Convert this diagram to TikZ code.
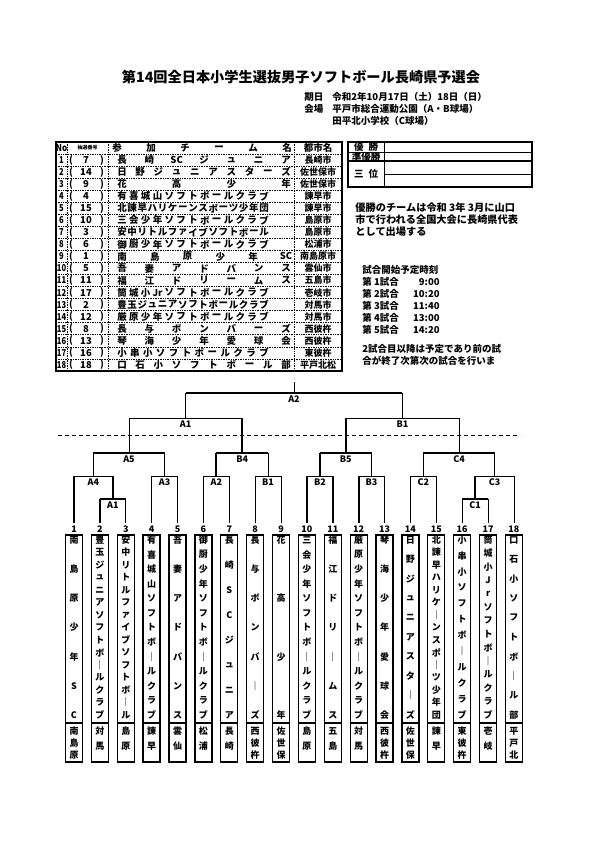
\documentclass[tikz,border=0pt]{standalone}
\usepackage{fontspec}
\setmainfont{Noto Sans CJK JP}
\usetikzlibrary{positioning}
\tikzset{every picture/.style={line width=0.8pt}}
\tikzset{
  thn/.style={line width=0.8pt},
  thk/.style={line width=1.7pt},
  txt/.style={inner sep=0pt, font=\bfseries\fontsize{9.5}{10}\selectfont},
  vch/.style={inner sep=0pt, font=\bfseries\fontsize{9}{9}\selectfont},
  mlbl/.style={inner sep=0pt, font=\bfseries\fontsize{9}{9}\selectfont},
  teambox/.style={line width=1.3pt},
  grid/.style={densely dotted, line width=0.7pt},
}

\begin{document}
\begin{tikzpicture}[x=1pt, y=-1pt]
\useasboundingbox (0,0) rectangle (595,842);
\fill[white] (0,0) rectangle (595,842);

% title and dates
\node[inner sep=0pt, font=\bfseries\fontsize{14.2}{15}\selectfont] (title) at (301,77) {第14回全日本小学生選抜男子ソフトボール長崎県予選会};
\node[txt, anchor=west] (kijitu) at (304,97) {期日};
\node[txt, anchor=west] (date) at (332,97) {令和2年10月17日（土）18日（日）};
\node[txt, anchor=west] (kaijo) at (304,109) {会場};
\node[txt, anchor=west] (park) at (332,109) {平戸市総合運動公園（A・B球場）};
\node[txt, anchor=west] (school) at (332,121) {田平北小学校（C球場）};

% entry table
\draw[line width=1.1pt] (56,142) rectangle (342,371);
\foreach \yy in {1,...,18} \draw[grid] (56,{142+12.05*\yy}) -- (342,{142+12.05*\yy});
\foreach \xx in {67,108,294} \draw[grid] (\xx,142) -- (\xx,371);
\node[txt] (hno) at (61.5,148) {\scalebox{0.85}[1]{No}};
\node[inner sep=0pt, font=\bfseries\fontsize{5}{5}\selectfont] (hdraw) at (87.5,148) {抽選番号};
\foreach \ch [count=\k] in {参,加,チ,ー,ム,名}
  \node[txt] (hd\k) at ({117+(287-117)*(\k-1)/5},148) {\ch};
\node[txt] (hcity) at (318,148) {都市名};
\foreach \row/\drw/\nm/\ct in {
  1/7/{長,崎,SC,ジ,ュ,ニ,ア}/長崎市,
  2/14/{日,野,ジ,ュ,ニ,ア,ス,タ,ー,ズ}/佐世保市,
  3/9/{花,高,少,年}/佐世保市,
  4/4/{有,喜,城,山,ソ,フ,ト,ボ,ー,ル,ク,ラ,ブ}/諫早市,
  5/15/{北,諫,早,ハ,リ,ケ,ー,ン,ス,ポ,ー,ツ,少,年,団}/諫早市,
  6/10/{三,会,少,年,ソ,フ,ト,ボ,ー,ル,ク,ラ,ブ}/島原市,
  7/3/{安,中,リ,ト,ル,フ,ァ,イ,ブ,ソ,フ,ト,ボ,ー,ル}/島原市,
  8/6/{御,厨,少,年,ソ,フ,ト,ボ,ー,ル,ク,ラ,ブ}/松浦市,
  9/1/{南,島,原,少,年,SC}/南島原市,
  10/5/{吾,妻,ア,ド,バ,ン,ス}/雲仙市,
  11/11/{福,江,ド,リ,ー,ム,ス}/五島市,
  12/17/{筒,城,小,Jr,ソ,フ,ト,ボ,ー,ル,ク,ラ,ブ}/壱岐市,
  13/2/{豊,玉,ジ,ュ,ニ,ア,ソ,フ,ト,ボ,ー,ル,ク,ラ,ブ}/対馬市,
  14/12/{厳,原,少,年,ソ,フ,ト,ボ,ー,ル,ク,ラ,ブ}/対馬市,
  15/8/{長,与,ボ,ン,バ,ー,ズ}/西彼杵,
  16/13/{琴,海,少,年,愛,球,会}/西彼杵,
  17/16/{小,串,小,ソ,フ,ト,ボ,ー,ル,ク,ラ,ブ}/東彼杵,
  18/18/{口,石,小,ソ,フ,ト,ボ,ー,ル,部}/平戸北松}{
  \pgfmathsetmacro\ry{148+12.05*\row}
  \node[txt] (no\row) at (61.5,\ry) {\scalebox{0.8}[1]{\row}};
  \node[txt] (lp\row) at (71,\ry) {(};
  \node[txt] (dr\row) at (86,\ry) {\drw};
  \node[txt] (rp\row) at (102,\ry) {)};
  \foreach \ch [count=\k] in \nm {\xdef\nchr{\k}}
  \pgfmathsetmacro\xe{\nchr>11 ? 264 : 286}
  \foreach \ch [count=\k] in \nm
    \node[txt] (tm\row-\k) at ({122+(\xe-122)*(\k-1)/(\nchr-1)},\ry) {\ch};
  \node[txt, font=\bfseries\fontsize{9}{9}\selectfont] (ct\row) at (318,\ry) {\ct};
}

% result boxes
\draw[line width=1.1pt] (348,142) rectangle (532,187);
\draw (384,142) -- (384,187);
\draw (348,152) -- (532,152);
\draw[thk] (348,161) -- (532,161);
\draw (384,174) -- (532,174);
\node[txt] (win) at (366,147) {優\hspace{5pt}勝};
\node[txt] (second) at (366,156.5) {準優勝};
\node[txt] (third) at (366,174) {三\hspace{5pt}位};

% notes
\node[txt, anchor=west, font=\bfseries\fontsize{10.2}{11}\selectfont] (note1) at (355,208) {優勝のチームは令和 3年 3月に山口};
\node[txt, anchor=west, font=\bfseries\fontsize{10.2}{11}\selectfont] (note2) at (355,220) {市で行われる全国大会に長崎県代表};
\node[txt, anchor=west, font=\bfseries\fontsize{10.2}{11}\selectfont] (note3) at (355,232) {として出場する};
\node[txt, anchor=west] (sched) at (362,270) {試合開始予定時刻};
\foreach \g/\tm [count=\k] in {1/9:00,2/10:20,3/11:40,4/13:00,5/14:20}{
  \node[txt, anchor=west] (g\g) at (362,{270+12*\k}) {第 \g{}試合};
  \node[txt, anchor=east] (t\g) at (440,{270+12*\k}) {\tm};
}
\node[txt, anchor=west] (note4) at (362,349) {2試合目以降は予定であり前の試};
\node[txt, anchor=west] (note5) at (362,361) {合が終了次第次の試合を行いま};

% teams of the draw
\foreach \col/\nm/\ct in {
  1/{南,島,原,少,年,S,C}/{南,島,原},
  2/{豊,玉,ジ,ュ,ニ,ア,ソ,フ,ト,ボ,｜,ル,ク,ラ,ブ}/{対,馬},
  3/{安,中,リ,ト,ル,フ,ァ,イ,ブ,ソ,フ,ト,ボ,｜,ル}/{島,原},
  4/{有,喜,城,山,ソ,フ,ト,ボ,｜,ル,ク,ラ,ブ}/{諫,早},
  5/{吾,妻,ア,ド,バ,ン,ス}/{雲,仙},
  6/{御,厨,少,年,ソ,フ,ト,ボ,｜,ル,ク,ラ,ブ}/{松,浦},
  7/{長,崎,S,C,ジ,ュ,ニ,ア}/{長,崎},
  8/{長,与,ボ,ン,バ,｜,ズ}/{西,彼,杵},
  9/{花,高,少,年}/{佐,世,保},
  10/{三,会,少,年,ソ,フ,ト,ボ,｜,ル,ク,ラ,ブ}/{島,原},
  11/{福,江,ド,リ,｜,ム,ス}/{五,島},
  12/{厳,原,少,年,ソ,フ,ト,ボ,｜,ル,ク,ラ,ブ}/{対,馬},
  13/{琴,海,少,年,愛,球,会}/{西,彼,杵},
  14/{日,野,ジ,ュ,ニ,ア,ス,タ,｜,ズ}/{佐,世,保},
  15/{北,諫,早,ハ,リ,ケ,｜,ン,ス,ポ,｜,ツ,少,年,団}/{諫,早},
  16/{小,串,小,ソ,フ,ト,ボ,｜,ル,ク,ラ,ブ}/{東,彼,杵},
  17/{筒,城,小,J,r,ソ,フ,ト,ボ,｜,ル,ク,ラ,ブ}/{壱,岐},
  18/{口,石,小,ソ,フ,ト,ボ,｜,ル,部}/{平,戸,北}}{
  \pgfmathsetmacro\cx{74+25.88*(\col-1)}
  \coordinate (c\col) at (\cx,523);
  \node[mlbl] (n\col) at (\cx,529) {\col};
  \draw[teambox] (\cx-8.5,535) rectangle (\cx+8.5,762);
  \draw[teambox] (\cx-8.5,723) -- (\cx+8.5,723);
  \foreach \ch [count=\k] in \nm {\xdef\nchr{\k}}
  \foreach \ch [count=\k] in \nm
    \node[vch] (v\col-\k) at (\cx,{540+175*(\k-1)/(\nchr-1)}) {\ch};
  \foreach \ch [count=\k] in \ct {\xdef\ncity{\k}}
  \foreach \ch [count=\k] in \ct
    \node[vch] (w\col-\k) at (\cx,{731+(\k-1)*(\ncity==2 ? 15 : 12)}) {\ch};
}

% ties
\coordinate (A1b) at (112.8,499);
\coordinate (C1)  at (475.1,499);
\coordinate (A4)  at (93.4,476);
\coordinate (A3)  at (164.6,476);
\coordinate (A2b) at (216.3,476);
\coordinate (B1b) at (268.1,476);
\coordinate (B2)  at (319.9,476);
\coordinate (B3)  at (371.6,476);
\coordinate (C2)  at (423.4,476);
\coordinate (C3)  at (494.6,476);
\coordinate (A5)  at (129.0,453);
\coordinate (B4)  at (242.2,453);
\coordinate (B5)  at (345.7,453);
\coordinate (C4)  at (459.0,453);
\coordinate (A1t) at (185.6,418);
\coordinate (B1t) at (402.4,418);
\coordinate (F)   at (294.0,393);
\coordinate (top) at (294.0,382);
\foreach \mt/\ca/\cb/\lab/\hw/\lw/\rw in {
  A1b/c2/c3/A1/thk/thk/thn,
  C1/c16/c17/C1/thk/thn/thn,
  A4/c1/A1b/A4/thn/thk/thk,
  A3/c4/c5/A3/thn/thn/thk,
  A2b/c6/c7/A2/thn/thk/thn,
  B1b/c8/c9/B1/thn/thn/thn,
  B2/c10/c11/B2/thn/thk/thk,
  B3/c12/c13/B3/thn/thk/thk,
  C2/c14/c15/C2/thn/thk/thn,
  C3/C1/c18/C3/thn/thk/thn,
  A5/A4/A3/A5/thk/thk/thn,
  B4/A2b/B1b/B4/thk/thk/thn,
  B5/B2/B3/B5/thk/thk/thk,
  C4/C2/C3/C4/thk/thk/thn,
  A1t/A5/B4/A1/thn/thn/thk,
  B1t/B5/C4/B1/thn/thk/thn,
  F/A1t/B1t/A2/thk/thn/thk}{
  \draw[\hw] (\ca |- \mt) -- (\cb |- \mt);
  \draw[\lw] (\ca) -- (\ca |- \mt);
  \draw[\rw] (\cb) -- (\cb |- \mt);
  \node[mlbl, below=2pt of \mt] (l\mt) {\lab};
}
\draw[thn] (F) -- (top);
\draw[dashed, dash pattern=on 4pt off 3pt, line width=1pt] (58,435) -- (520,435);
\end{tikzpicture}
\end{document}
